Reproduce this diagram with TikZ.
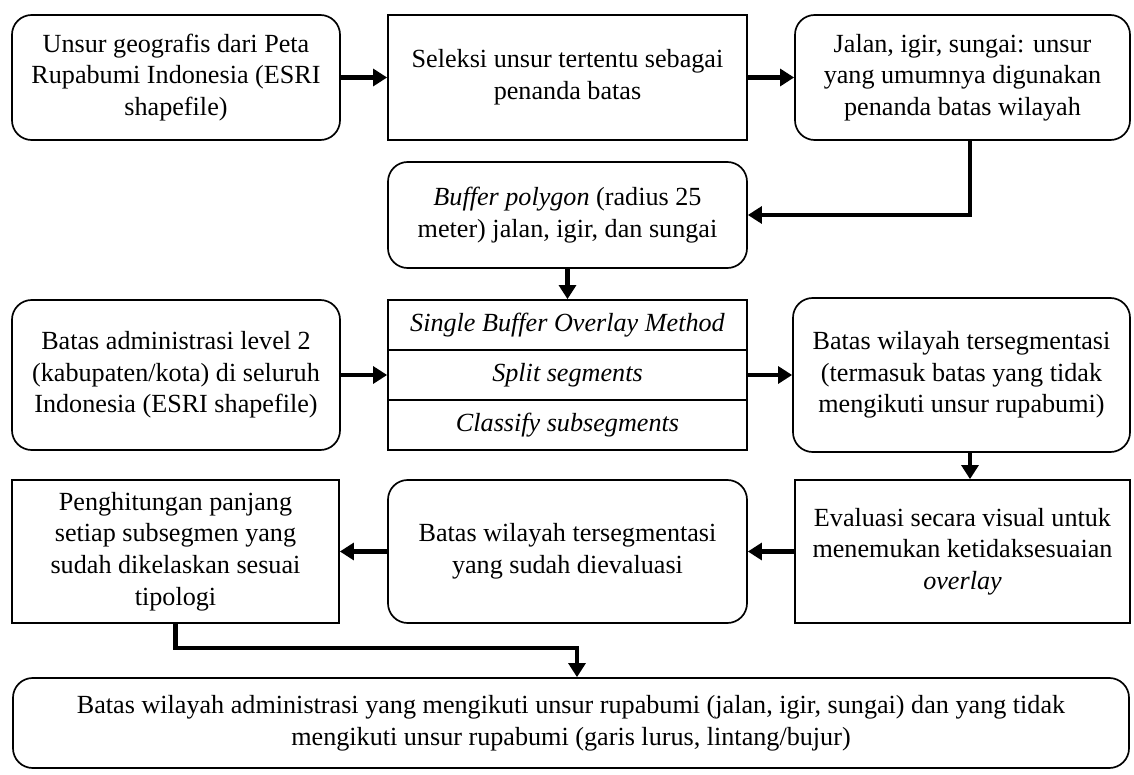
\documentclass[tikz,border=0pt]{standalone}
\usepackage{fontspec}
\setmainfont{Liberation Serif}
\usetikzlibrary{arrows.meta}

\tikzset{
  box/.style={draw, line width=1.2pt, align=center, inner sep=2pt,
    font=\fontsize{18.6}{22.5}\selectfont},
  rbox/.style={box, rounded corners=14pt},
  flow/.style={line width=3.2pt, -{Triangle[length=10pt, width=12pt]}}
}

\begin{document}
\begin{tikzpicture}[x=0.025cm, y=-0.025cm]
\useasboundingbox (0,0) rectangle (1134,775);
% top row
\node (unsur) [rbox, minimum width=328*0.025cm, minimum height=125*0.025cm] at (176,77.5) {Unsur geografis dari Peta\\Rupabumi Indonesia (ESRI\\shapefile)};
\node (seleksi) [box, minimum width=359*0.025cm, minimum height=125*0.025cm] at (567.5,77.5) {Seleksi unsur tertentu sebagai\\penanda batas};
\node (jalan) [rbox, minimum width=335*0.025cm, minimum height=125*0.025cm] at (962.5,77.5) {Jalan, igir, sungai: unsur\\yang umumnya digunakan\\penanda batas wilayah};
% buffer
\node (buffer) [rbox, minimum width=359*0.025cm, minimum height=106*0.025cm] at (567.5,215) {\textit{Buffer polygon} (radius 25\\meter) jalan, igir, dan sungai};
% method stack
\node (sbom) [box, minimum width=359*0.025cm, minimum height=50*0.025cm] at (567.5,325) {\textit{Single Buffer Overlay Method}};
\node (split) [box, minimum width=359*0.025cm, minimum height=50*0.025cm] at (567.5,375) {\textit{Split segments}};
\node (classify) [box, minimum width=359*0.025cm, minimum height=50*0.025cm] at (567.5,425) {\textit{Classify subsegments}};
\node (admin) [rbox, minimum width=328*0.025cm, minimum height=150*0.025cm] at (176,375) {Batas administrasi level 2\\(kabupaten/kota) di seluruh\\Indonesia (ESRI shapefile)};
\node (segmen) [rbox, minimum width=337*0.025cm, minimum height=154*0.025cm] at (961.5,375) {Batas wilayah tersegmentasi\\(termasuk batas yang tidak\\mengikuti unsur rupabumi)};
% fourth row
\node (hitung) [box, minimum width=327*0.025cm, minimum height=143*0.025cm] at (175.5,551.5) {Penghitungan panjang\\setiap subsegmen yang\\sudah dikelaskan sesuai\\tipologi};
\node (dievaluasi) [rbox, minimum width=359*0.025cm, minimum height=143*0.025cm] at (567.5,551.5) {Batas wilayah tersegmentasi\\yang sudah dievaluasi};
\node (evaluasi) [box, minimum width=335*0.025cm, minimum height=143*0.025cm] at (962.5,551.5) {Evaluasi secara visual untuk\\menemukan ketidaksesuaian\\\textit{overlay}};
% result
\node (hasil) [rbox, minimum width=1116*0.025cm, minimum height=90*0.025cm] at (571,723) {Batas wilayah administrasi yang mengikuti unsur rupabumi (jalan, igir, sungai) dan yang tidak\\mengikuti unsur rupabumi (garis lurus, lintang/bujur)};
% connectors
\draw[flow] (unsur) -- (seleksi);
\draw[flow] (seleksi) -- (jalan);
\draw[flow] ([xshift=7.5*0.025cm]jalan.south) |- (buffer.east);
\draw[flow] (buffer) -- (sbom);
\draw[flow] (admin) -- (split);
\draw[flow] (split) -- (segmen);
\draw[flow] ([xshift=8.5*0.025cm]segmen.south) -- ([xshift=7.5*0.025cm]evaluasi.north);
\draw[flow] (evaluasi) -- (dievaluasi);
\draw[flow] (dievaluasi) -- (hitung);
\coordinate (turn) at (577,648);
\draw[flow] (hitung.south) |- (turn) -- (turn |- hasil.north);
\end{tikzpicture}
\end{document}
